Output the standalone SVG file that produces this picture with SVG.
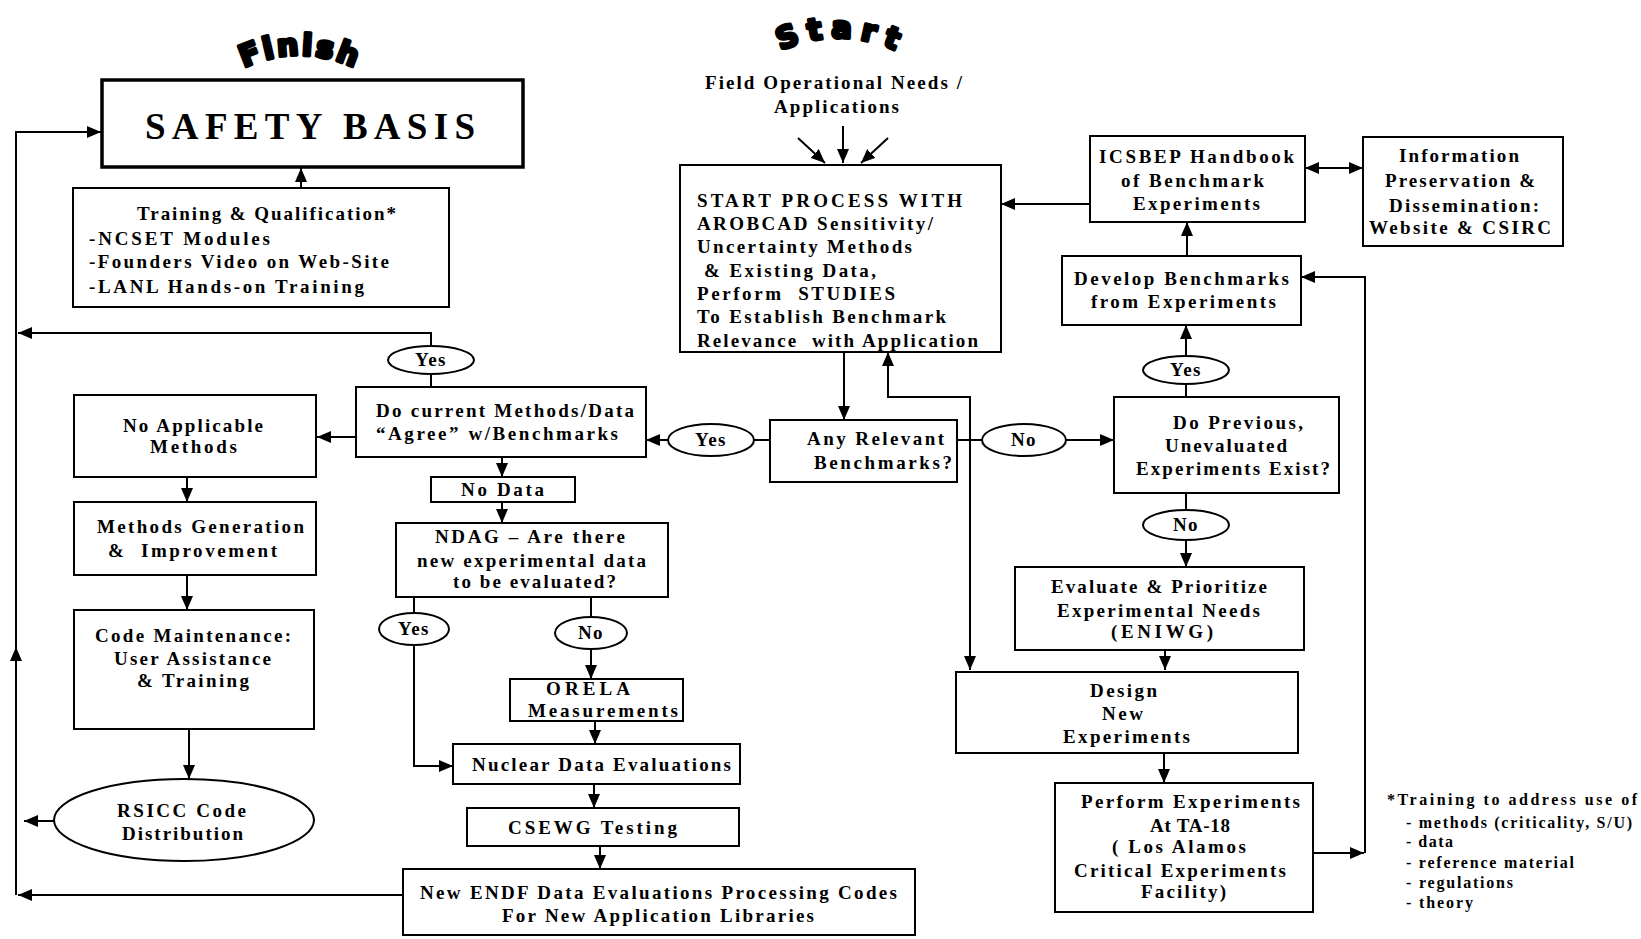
<svg xmlns="http://www.w3.org/2000/svg" width="1641" height="939" viewBox="0 0 1641 939">
<style>
.b{fill:#fff;stroke:#000;stroke-width:2}
.bb{fill:#fff;stroke:#000;stroke-width:3.5}
.t{font-family:"Liberation Serif","Times New Roman",serif;font-weight:bold;font-size:19px;fill:#000}
.m{text-anchor:middle}
.f{font-size:16px}
.big{font-size:37px}
.c{fill:none;stroke:#000;stroke-width:2}
.a{marker-end:url(#ah)}
.arc{font-family:"DejaVu Sans",sans-serif;font-weight:bold;font-size:30px;fill:#000;stroke:#000;stroke-width:3.5;stroke-linejoin:round}
</style>
<defs>
<marker id="ah" markerUnits="userSpaceOnUse" markerWidth="14" markerHeight="12" refX="14" refY="6" orient="auto"><path d="M0,0 L14,6 L0,12 z" fill="#000"/></marker>
<marker id="ahs" markerUnits="userSpaceOnUse" markerWidth="14" markerHeight="12" refX="14" refY="6" orient="auto-start-reverse"><path d="M0,0 L14,6 L0,12 z" fill="#000"/></marker>
<path id="finishArc" d="M236 72 A127 127 0 0 1 362 72"/>
<path id="startArc" d="M774 54 A136 136 0 0 1 902 54"/>
</defs>
<rect width="1641" height="939" fill="#fff"/>

<g id="connectors">
<path class="c a" d="M301 188 L301 168"/>
<path class="c a" d="M16 895 L16 132 L101 132"/>
<path class="c a" d="M16 664 L16 647"/>
<path class="c" d="M431 387 L431 374"/>
<path class="c a" d="M431 346 L431 333 L18 333"/>
<path class="c a" d="M356 437 L317 437"/>
<path class="c a" d="M187 477 L187 502"/>
<path class="c a" d="M187 575 L187 610"/>
<path class="c a" d="M189 729 L189 779"/>
<path class="c a" d="M54 821 L24 821"/>
<path class="c a" d="M403 895 L18 895"/>
<path class="c a" d="M502 457 L502 477"/>
<path class="c a" d="M502 502 L502 523"/>
<path class="c" d="M414 597 L414 613"/>
<path class="c a" d="M414 645 L414 766 L453 766"/>
<path class="c" d="M591 597 L591 617"/>
<path class="c a" d="M591 649 L591 679"/>
<path class="c a" d="M595 721 L595 744"/>
<path class="c a" d="M594 784 L594 808"/>
<path class="c a" d="M600 846 L600 869"/>
<path class="c a" d="M843 126 L843 163"/>
<path class="c a" d="M798 138 L825 163"/>
<path class="c a" d="M888 138 L861 163"/>
<path class="c a" d="M844 352 L844 420"/>
<path class="c" d="M770 440 L754 440"/>
<path class="c a" d="M668 440 L646 440"/>
<path class="c" d="M957 440 L982 440"/>
<path class="c a" d="M1066 440 L1114 440"/>
<path class="c a" d="M970 440 L970 397 L888 397 L888 352"/>
<path class="c a" d="M970 440 L970 670"/>
<path class="c" d="M1186 397 L1186 384"/>
<path class="c a" d="M1186 356 L1186 325"/>
<path class="c a" d="M1187 256 L1187 222"/>
<path class="c a" d="M1090 204 L1001 204"/>
<path class="c" d="M1305 168 L1363 168" marker-start="url(#ahs)" marker-end="url(#ahs)"/>
<path class="c" d="M1186 493 L1186 510"/>
<path class="c a" d="M1186 540 L1186 567"/>
<path class="c a" d="M1165 650 L1165 670"/>
<path class="c a" d="M1164 753 L1164 783"/>
<path class="c a" d="M1313 853 L1364 853"/>
<path class="c a" d="M1365 853 L1365 277 L1301 277"/>
</g>

<g id="finish-label"><text class="arc"><textPath href="#finishArc" startOffset="50%" text-anchor="middle" textLength="114" lengthAdjust="spacing">Finish</textPath></text></g>
<g id="start-label"><text class="arc"><textPath href="#startArc" startOffset="50%" text-anchor="middle" textLength="118" lengthAdjust="spacing">Start</textPath></text></g>

<g id="safety-basis">
<rect class="bb" x="102" y="80" width="421" height="87"/>
<text class="t big" x="145" y="139" textLength="330" lengthAdjust="spacing">SAFETY BASIS</text>
</g>

<g id="training">
<rect class="b" x="73" y="188" width="376" height="119"/>
<text class="t" x="137" y="220" textLength="259" lengthAdjust="spacing">Training &amp; Qualification*</text>
<text class="t" x="89" y="245" textLength="181" lengthAdjust="spacing">-NCSET Modules</text>
<text class="t" x="89" y="268" textLength="300" lengthAdjust="spacing">-Founders Video on Web-Site</text>
<text class="t" x="89" y="293" textLength="275" lengthAdjust="spacing">-LANL Hands-on Training</text>
</g>

<g id="field-needs">
<text class="t" x="705" y="89" textLength="257" lengthAdjust="spacing">Field Operational Needs /</text>
<text class="t" x="774" y="113" textLength="125" lengthAdjust="spacing">Applications</text>
</g>

<g id="start-process">
<rect class="b" x="680" y="165" width="321" height="187"/>
<text class="t" x="697" y="207" textLength="265" lengthAdjust="spacing">START PROCESS WITH</text>
<text class="t" x="697" y="230" textLength="236" lengthAdjust="spacing">AROBCAD Sensitivity/</text>
<text class="t" x="697" y="253" textLength="215" lengthAdjust="spacing">Uncertainty Methods</text>
<text class="t" x="704" y="277" textLength="172" lengthAdjust="spacing">&amp; Existing Data,</text>
<text class="t" x="697" y="300" textLength="198" lengthAdjust="spacing" xml:space="preserve">Perform  STUDIES</text>
<text class="t" x="697" y="323" textLength="249" lengthAdjust="spacing">To Establish Benchmark</text>
<text class="t" x="697" y="347" textLength="281" lengthAdjust="spacing" xml:space="preserve">Relevance  with Application</text>
</g>

<g id="icsbep">
<rect class="b" x="1090" y="136" width="215" height="86"/>
<text class="t" x="1099" y="163" textLength="195" lengthAdjust="spacing">ICSBEP Handbook</text>
<text class="t" x="1121" y="187" textLength="143" lengthAdjust="spacing">of Benchmark</text>
<text class="t" x="1133" y="210" textLength="127" lengthAdjust="spacing">Experiments</text>
</g>

<g id="info-preservation">
<rect class="b" x="1363" y="137" width="200" height="109"/>
<text class="t" x="1399" y="162" textLength="120" lengthAdjust="spacing">Information</text>
<text class="t" x="1385" y="187" textLength="150" lengthAdjust="spacing">Preservation &amp;</text>
<text class="t" x="1389" y="212" textLength="150" lengthAdjust="spacing">Dissemination:</text>
<text class="t" x="1369" y="234" textLength="182" lengthAdjust="spacing">Website &amp; CSIRC</text>
</g>

<g id="develop-benchmarks">
<rect class="b" x="1062" y="256" width="239" height="69"/>
<text class="t" x="1074" y="285" textLength="215" lengthAdjust="spacing">Develop Benchmarks</text>
<text class="t" x="1091" y="308" textLength="185" lengthAdjust="spacing">from Experiments</text>
</g>

<g id="yes-develop">
<ellipse class="b" cx="1186" cy="370" rx="43" ry="14"/>
<text class="t m" x="1186" y="376" letter-spacing="1.5">Yes</text>
</g>

<g id="do-previous">
<rect class="b" x="1114" y="397" width="225" height="96"/>
<text class="t" x="1173" y="429" textLength="130" lengthAdjust="spacing">Do Previous,</text>
<text class="t" x="1165" y="452" textLength="122" lengthAdjust="spacing">Unevaluated</text>
<text class="t" x="1136" y="475" textLength="194" lengthAdjust="spacing">Experiments Exist?</text>
</g>

<g id="no-previous">
<ellipse class="b" cx="1186" cy="525" rx="43" ry="15"/>
<text class="t m" x="1186" y="531" letter-spacing="1.5">No</text>
</g>

<g id="evaluate">
<rect class="b" x="1015" y="567" width="289" height="83"/>
<text class="t" x="1051" y="593" textLength="216" lengthAdjust="spacing">Evaluate &amp; Prioritize</text>
<text class="t" x="1057" y="617" textLength="203" lengthAdjust="spacing">Experimental Needs</text>
<text class="t" x="1111" y="638" textLength="102" lengthAdjust="spacing">(ENIWG)</text>
</g>

<g id="design">
<rect class="b" x="956" y="672" width="342" height="81"/>
<text class="t" x="1090" y="697" textLength="67" lengthAdjust="spacing">Design</text>
<text class="t" x="1102" y="720" textLength="41" lengthAdjust="spacing">New</text>
<text class="t" x="1063" y="743" textLength="127" lengthAdjust="spacing">Experiments</text>
</g>

<g id="perform">
<rect class="b" x="1055" y="783" width="258" height="129"/>
<text class="t" x="1081" y="808" textLength="219" lengthAdjust="spacing">Perform Experiments</text>
<text class="t" x="1150" y="832" textLength="80" lengthAdjust="spacing">At TA-18</text>
<text class="t" x="1112" y="853" textLength="134" lengthAdjust="spacing">( Los Alamos</text>
<text class="t" x="1074" y="877" textLength="212" lengthAdjust="spacing">Critical Experiments</text>
<text class="t" x="1141" y="898" textLength="85" lengthAdjust="spacing">Facility)</text>
</g>

<g id="any-relevant">
<rect class="b" x="770" y="420" width="187" height="62"/>
<text class="t" x="807" y="445" textLength="137" lengthAdjust="spacing">Any Relevant</text>
<text class="t" x="814" y="469" textLength="138" lengthAdjust="spacing">Benchmarks?</text>
</g>

<g id="yes-relevant">
<ellipse class="b" cx="711" cy="440" rx="43" ry="16"/>
<text class="t m" x="711" y="446" letter-spacing="1.5">Yes</text>
</g>

<g id="no-relevant">
<ellipse class="b" cx="1024" cy="440" rx="42" ry="16"/>
<text class="t m" x="1024" y="446" letter-spacing="1.5">No</text>
</g>

<g id="do-current">
<rect class="b" x="356" y="387" width="290" height="70"/>
<text class="t" x="376" y="417" textLength="258" lengthAdjust="spacing">Do current Methods/Data</text>
<text class="t" x="376" y="440" textLength="242" lengthAdjust="spacing">“Agree” w/Benchmarks</text>
</g>

<g id="yes-agree">
<ellipse class="b" cx="431" cy="360" rx="43" ry="14"/>
<text class="t m" x="431" y="366" letter-spacing="1.5">Yes</text>
</g>

<g id="no-applicable">
<rect class="b" x="74" y="395" width="242" height="82"/>
<text class="t" x="123" y="432" textLength="140" lengthAdjust="spacing">No Applicable</text>
<text class="t" x="150" y="453" textLength="87" lengthAdjust="spacing">Methods</text>
</g>

<g id="methods-gen">
<rect class="b" x="74" y="502" width="242" height="73"/>
<text class="t" x="97" y="533" textLength="207" lengthAdjust="spacing">Methods Generation</text>
<text class="t" x="108" y="557" textLength="169" lengthAdjust="spacing" xml:space="preserve">&amp;  Improvement</text>
</g>

<g id="code-maint">
<rect class="b" x="74" y="610" width="240" height="119"/>
<text class="t" x="95" y="642" textLength="196" lengthAdjust="spacing">Code Maintenance:</text>
<text class="t" x="114" y="665" textLength="157" lengthAdjust="spacing">User Assistance</text>
<text class="t" x="137" y="687" textLength="112" lengthAdjust="spacing">&amp; Training</text>
</g>

<g id="rsicc">
<ellipse class="b" cx="184" cy="820" rx="130" ry="41"/>
<text class="t" x="117" y="817" textLength="129" lengthAdjust="spacing">RSICC Code</text>
<text class="t" x="122" y="840" textLength="121" lengthAdjust="spacing">Distribution</text>
</g>

<g id="no-data">
<rect class="b" x="431" y="477" width="144" height="25"/>
<text class="t" x="461" y="496" textLength="83" lengthAdjust="spacing">No Data</text>
</g>

<g id="ndag">
<rect class="b" x="396" y="523" width="272" height="74"/>
<text class="t" x="435" y="543" textLength="190" lengthAdjust="spacing">NDAG – Are there</text>
<text class="t" x="417" y="567" textLength="229" lengthAdjust="spacing">new experimental data</text>
<text class="t" x="453" y="588" textLength="163" lengthAdjust="spacing">to be evaluated?</text>
</g>

<g id="yes-ndag">
<ellipse class="b" cx="414" cy="629" rx="35" ry="16"/>
<text class="t m" x="414" y="635" letter-spacing="1.5">Yes</text>
</g>

<g id="no-ndag">
<ellipse class="b" cx="591" cy="633" rx="36" ry="16"/>
<text class="t m" x="591" y="639" letter-spacing="1.5">No</text>
</g>

<g id="orela">
<rect class="b" x="510" y="679" width="173" height="42"/>
<text class="t" x="546" y="695" textLength="84" lengthAdjust="spacing">ORELA</text>
<text class="t" x="528" y="717" textLength="150" lengthAdjust="spacing">Measurements</text>
</g>

<g id="nuclear-data">
<rect class="b" x="453" y="744" width="287" height="40"/>
<text class="t" x="472" y="771" textLength="259" lengthAdjust="spacing">Nuclear Data Evaluations</text>
</g>

<g id="csewg">
<rect class="b" x="467" y="808" width="272" height="38"/>
<text class="t" x="508" y="834" textLength="169" lengthAdjust="spacing">CSEWG Testing</text>
</g>

<g id="new-endf">
<rect class="b" x="403" y="869" width="512" height="66"/>
<text class="t" x="420" y="899" textLength="477" lengthAdjust="spacing">New ENDF Data Evaluations Processing Codes</text>
<text class="t" x="502" y="922" textLength="312" lengthAdjust="spacing">For New Application Libraries</text>
</g>

<g id="footnote">
<text class="t f" x="1387" y="805" textLength="250" lengthAdjust="spacing">*Training to address use of</text>
<text class="t f" x="1406" y="828" textLength="226" lengthAdjust="spacing">- methods (criticality, S/U)</text>
<text class="t f" x="1406" y="847" textLength="47" lengthAdjust="spacing">- data</text>
<text class="t f" x="1406" y="868" textLength="168" lengthAdjust="spacing">- reference material</text>
<text class="t f" x="1406" y="888" textLength="107" lengthAdjust="spacing">- regulations</text>
<text class="t f" x="1406" y="908" textLength="67" lengthAdjust="spacing">- theory</text>
</g>
</svg>
